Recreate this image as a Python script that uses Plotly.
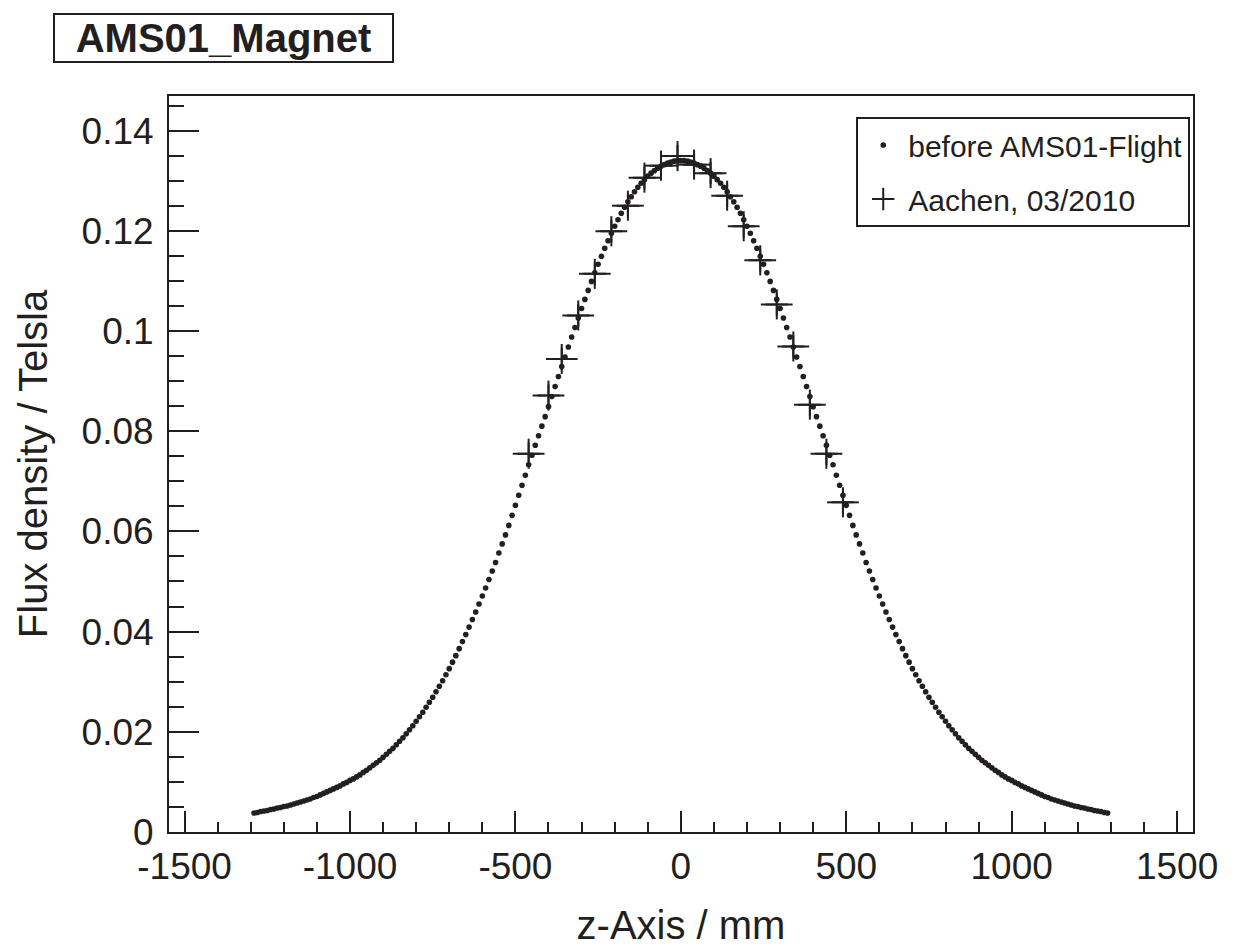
import plotly.graph_objects as go

# NOTE: Field map before the AMS01 flight, one reading every 10 mm
z_curve = list(range(-1290, 1300, 10))
b_curve = [
    0.0038, 0.0039, 0.0041, 0.0042, 0.0043, 0.0045, 0.0046, 0.0048, 0.0049, 0.0051,
    0.0052, 0.0054, 0.0056, 0.0058, 0.0060, 0.0062, 0.0064, 0.0066, 0.0069, 0.0071,
    0.0074, 0.0077, 0.0080, 0.0083, 0.0086, 0.0089, 0.0092, 0.0096, 0.0099, 0.0103,
    0.0106, 0.0110, 0.0114, 0.0119, 0.0123, 0.0128, 0.0133, 0.0138, 0.0143, 0.0149,
    0.0155, 0.0161, 0.0167, 0.0174, 0.0181, 0.0188, 0.0196, 0.0204, 0.0212, 0.0221,
    0.0230, 0.0239, 0.0249, 0.0259, 0.0269, 0.0280, 0.0291, 0.0302, 0.0314, 0.0326,
    0.0339, 0.0352, 0.0366, 0.0380, 0.0394, 0.0409, 0.0424, 0.0439, 0.0455, 0.0471,
    0.0487, 0.0504, 0.0521, 0.0538, 0.0557, 0.0575, 0.0593, 0.0612, 0.0632, 0.0652,
    0.0672, 0.0692, 0.0712, 0.0733, 0.0752, 0.0772, 0.0791, 0.0810, 0.0829, 0.0849,
    0.0869, 0.0889, 0.0909, 0.0929, 0.0948, 0.0968, 0.0988, 0.1007, 0.1026, 0.1045,
    0.1063, 0.1081, 0.1099, 0.1116, 0.1133, 0.1149, 0.1165, 0.1180, 0.1195, 0.1209,
    0.1222, 0.1235, 0.1247, 0.1258, 0.1268, 0.1278, 0.1287, 0.1295, 0.1302, 0.1309,
    0.1315, 0.1320, 0.1325, 0.1329, 0.1332, 0.1335, 0.1337, 0.1339, 0.1340,
    0.1340, 0.1340, 0.1339, 0.1337, 0.1335, 0.1332, 0.1329, 0.1325, 0.1320, 0.1315,
    0.1309, 0.1302, 0.1295, 0.1287, 0.1278, 0.1268, 0.1258, 0.1247, 0.1235, 0.1222,
    0.1209, 0.1195, 0.1180, 0.1165, 0.1149, 0.1133, 0.1116, 0.1099, 0.1081, 0.1063,
    0.1045, 0.1026, 0.1007, 0.0988, 0.0968, 0.0948, 0.0929, 0.0909, 0.0889, 0.0869,
    0.0849, 0.0829, 0.0810, 0.0791, 0.0772, 0.0752, 0.0733, 0.0712, 0.0692, 0.0672,
    0.0652, 0.0632, 0.0612, 0.0593, 0.0575, 0.0557, 0.0538, 0.0521, 0.0504, 0.0487,
    0.0471, 0.0455, 0.0439, 0.0424, 0.0409, 0.0394, 0.0380, 0.0366, 0.0352, 0.0339,
    0.0326, 0.0314, 0.0302, 0.0291, 0.0280, 0.0269, 0.0259, 0.0249, 0.0239, 0.0230,
    0.0221, 0.0212, 0.0204, 0.0196, 0.0188, 0.0181, 0.0174, 0.0167, 0.0161, 0.0155,
    0.0149, 0.0143, 0.0138, 0.0133, 0.0128, 0.0123, 0.0119, 0.0114, 0.0110, 0.0106,
    0.0103, 0.0099, 0.0096, 0.0092, 0.0089, 0.0086, 0.0083, 0.0080, 0.0077, 0.0074,
    0.0071, 0.0069, 0.0066, 0.0064, 0.0062, 0.0060, 0.0058, 0.0056, 0.0054, 0.0052,
    0.0051, 0.0049, 0.0048, 0.0046, 0.0045, 0.0043, 0.0042, 0.0041, 0.0039, 0.0038,
]

# NOTE: Aachen measurement, 03/2010
z_meas = [-460, -400, -360, -310, -260, -210, -160, -110, -60, -10,
          40, 90, 140, 190, 240, 290, 340, 390, 440, 490]
b_meas = [0.0755, 0.0871, 0.0944, 0.1031, 0.1114, 0.1199, 0.1250, 0.1306, 0.1330, 0.1349,
          0.1332, 0.1315, 0.1270, 0.1209, 0.1141, 0.1053, 0.0969, 0.0853, 0.0755, 0.0658]
z_err = 48
b_err = 0.003

x_ticks = [-1500, -1000, -500, 0, 500, 1000, 1500]
x_labels = ["-1500", "-1000", "-500", "0", "500", "1000", "1500"]
y_ticks = [0, 0.02, 0.04, 0.06, 0.08, 0.10, 0.12, 0.14]
y_labels = ["0", "0.02", "0.04", "0.06", "0.08", "0.1", "0.12", "0.14"]

ink = "#231f20"
font = "Liberation Sans, Arial, Helvetica, sans-serif"

fig = go.Figure()

fig.add_trace(go.Scatter(
    x=z_curve, y=b_curve, mode="markers", name="before AMS01-Flight",
    legendgroup="a",
    marker=dict(size=5.6, color=ink, line=dict(width=0)),
))

fig.add_trace(go.Scatter(
    x=z_meas, y=b_meas, mode="markers", name="Aachen, 03/2010",
    legendgroup="b",
    marker=dict(symbol="cross-thin", size=16, color=ink,
                line=dict(width=2, color=ink)),
    error_x=dict(type="constant", value=z_err, color=ink, thickness=2, width=0),
    error_y=dict(type="constant", value=b_err, color=ink, thickness=2, width=0),
))

# NOTE: ROOT-like frame with inside ticks on left and bottom only
fig.update_xaxes(
    range=[-1547, 1548], showgrid=False, zeroline=False,
    showline=True, linewidth=2, linecolor=ink, mirror=True,
    tickmode="array", tickvals=x_ticks, ticktext=x_labels,
    ticks="inside", ticklen=21, tickwidth=2, tickcolor=ink,
    minor=dict(tickmode="linear", tick0=0, dtick=100, ticks="inside",
               ticklen=10, tickwidth=2, tickcolor=ink, showgrid=False),
    tickfont=dict(size=37, color=ink, family=font), ticklabelstandoff=1,
    title=dict(text="z-Axis / mm", font=dict(size=40, color=ink, family=font),
               standoff=25),
)
fig.update_yaxes(
    range=[0, 0.1469], showgrid=False, zeroline=False,
    showline=True, linewidth=2, linecolor=ink, mirror=True,
    tickmode="array", tickvals=y_ticks, ticktext=y_labels,
    ticks="inside", ticklen=30, tickwidth=2, tickcolor=ink,
    minor=dict(tickmode="linear", tick0=0, dtick=0.005, ticks="inside",
               ticklen=15, tickwidth=2, tickcolor=ink, showgrid=False),
    tickfont=dict(size=37, color=ink, family=font), ticklabelstandoff=6,
    title=dict(text="Flux density / Telsla", font=dict(size=40, color=ink, family=font),
               standoff=22),
)

fig.add_annotation(
    text="<b>AMS01_Magnet</b>", xref="paper", yref="paper",
    x=-0.1133, y=1.1123, xanchor="left", yanchor="top", showarrow=False,
    font=dict(size=40, color=ink, family=font),
    width=337, height=46, borderpad=0, borderwidth=2, bordercolor=ink,
    bgcolor="white", align="center", valign="middle",
)

# NOTE: page adds an 8 px body margin, so the figure is 8 px smaller on each side
fig.update_layout(
    width=1232, height=943,
    margin=dict(l=161, r=47, t=88, b=119, autoexpand=False),
    paper_bgcolor="white", plot_bgcolor="white",
    font=dict(family=font, color=ink),
    legend=dict(
        x=0.9973, y=0.9715, xanchor="right", yanchor="top",
        bgcolor="white", bordercolor=ink, borderwidth=2,
        font=dict(size=30, color=ink, family=font),
        itemsizing="trace", itemwidth=40, tracegroupgap=12,
    ),
)

fig.write_html("out.html")
